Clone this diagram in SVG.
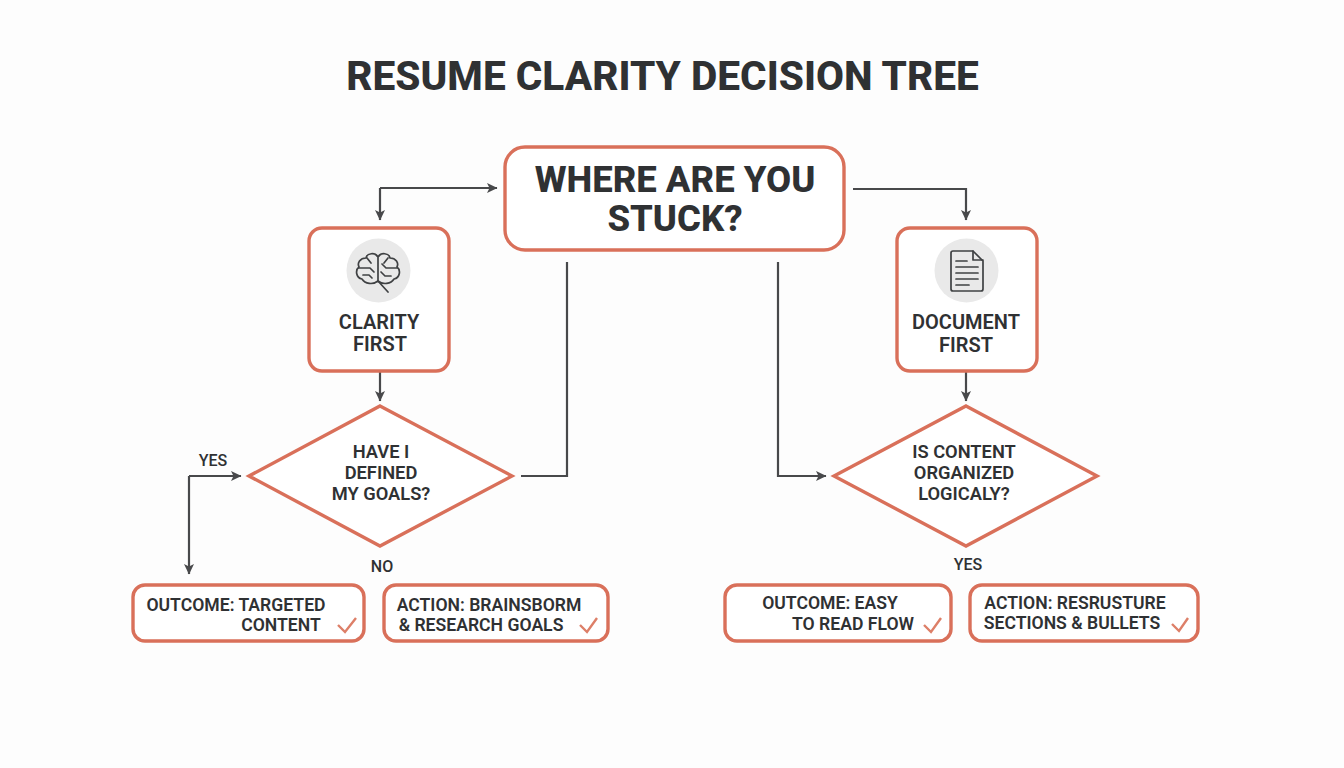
<svg xmlns="http://www.w3.org/2000/svg" width="1344" height="768" viewBox="0 0 1344 768">
<style>
text{font-family:Roboto,"Liberation Sans",sans-serif;fill:#2f3133;text-anchor:middle}
.b{fill:#fff;stroke:#d9705a;stroke-width:3.4}
.c{fill:none;stroke:#48494b;stroke-width:2.2}
.i{fill:none;stroke:#3f4143;stroke-width:1.7;stroke-linecap:round;stroke-linejoin:round}
.k{fill:none;stroke:#dd7f68;stroke-width:2.4}
.t{font-size:40.600px;font-weight:800}
.h{font-size:36.500px;font-weight:800}
.n{font-size:20px;font-weight:600}
.d{font-size:18.300px;font-weight:600}
.l{font-size:16px;font-weight:500}
.o{font-size:17.600px;font-weight:600}
</style>
<defs><marker id="a" markerWidth="12" markerHeight="12" refX="10" refY="6" orient="auto" markerUnits="userSpaceOnUse"><path d="M0,1L10.500,6L0,11L2.500,6Z" fill="#48494b"/></marker></defs>
<rect width="1344" height="768" fill="#fdfdfd"/>
<text id="title" x="662.500" y="90" class="t">RESUME CLARITY DECISION TREE</text>
<g id="connectors">
<path class="c" marker-end="url(#a)" d="M380,188H497"/>
<path class="c" marker-end="url(#a)" d="M380,188V220"/>
<path class="c" marker-end="url(#a)" d="M853,189H966V220"/>
<path class="c" marker-end="url(#a)" d="M380,372V401"/>
<path class="c" marker-end="url(#a)" d="M966,372V401"/>
<path class="c" d="M521,476H567V262"/>
<path class="c" marker-end="url(#a)" d="M778,262V476H826"/>
<path class="c" marker-end="url(#a)" d="M189,476H241"/>
<path class="c" marker-end="url(#a)" d="M189,476V574"/>
</g>
<g id="start"><rect class="b" x="505" y="147" width="339" height="103" rx="20"/><text class="h" x="675" y="192">WHERE ARE YOU</text><text class="h" x="675" y="231">STUCK?</text></g>
<g id="clarity"><rect class="b" x="309" y="228" width="140" height="143" rx="13"/><circle cx="378.500" cy="270.500" r="32" fill="#e9e9e9"/>
<g class="i"><path d="M378,257C375,252 367,253 366,258C360,258 357,263 359,267C355,270 356,278 362,279C365,284 373,285 378,281V257C381,252 389,253 390,258C396,258 399,263 397,267C401,270 400,278 394,279C391,284 383,285 378,281"/><path d="M378,281L388,292M359,268H370L374,272M367,258L371,263M363,275H369L372,278M397,268H386L382,264M391,276H385L381,272M388,258L384,263"/></g>
<text class="n" x="379" y="329">CLARITY</text><text class="n" x="380" y="351">FIRST</text></g>
<g id="document"><rect class="b" x="897" y="228" width="140" height="143" rx="13"/><circle cx="966.500" cy="270.500" r="32" fill="#e9e9e9"/>
<g class="i"><path d="M953,251H973L983,261V289C983,290 982,291 981,291H953C952,291 951,290 951,289V253C951,252 952,251 953,251Z"/><path d="M973,251V260H983M956,261H967M956,267H978M956,273H978M956,279H978M956,285H969"/></g>
<text class="n" x="966" y="329">DOCUMENT</text><text class="n" x="966" y="352">FIRST</text></g>
<g id="goals"><path class="b" d="M380,406L512,476L380,546L249,476Z"/><text class="d" x="381" y="458">HAVE I</text><text class="d" x="381" y="479">DEFINED</text><text class="d" x="381" y="500">MY GOALS?</text></g>
<g id="logic"><path class="b" d="M966,406L1097,476L966,546L834,476Z"/><text class="d" x="964" y="458">IS CONTENT</text><text class="d" x="964" y="479">ORGANIZED</text><text class="d" x="964" y="500">LOGICALY?</text></g>
<text class="l" x="213" y="466">YES</text><text class="l" x="382" y="572">NO</text><text class="l" x="968" y="570">YES</text>
<g id="outcome1"><rect class="b" x="133" y="585" width="231" height="56" rx="12"/><text class="o" x="236" y="611">OUTCOME: TARGETED</text><text class="o" x="281" y="631">CONTENT</text><path class="k" d="M338,625L345,632L356,618"/></g>
<g id="action1"><rect class="b" x="384" y="585" width="224" height="56" rx="12"/><text class="o" x="489" y="611">ACTION: BRAINSBORM</text><text class="o" x="481" y="631">&amp; RESEARCH GOALS</text><path class="k" d="M580,625L587,632L597,618"/></g>
<g id="outcome2"><rect class="b" x="725" y="585" width="226" height="56" rx="12"/><text class="o" x="830" y="609">OUTCOME: EASY</text><text class="o" x="853" y="630">TO READ FLOW</text><path class="k" d="M924,625L931,632L941,618"/></g>
<g id="action2"><rect class="b" x="970" y="585" width="228" height="56" rx="12"/><text class="o" x="1075" y="609">ACTION: RESRUSTURE</text><text class="o" x="1072" y="629">SECTIONS &amp; BULLETS</text><path class="k" d="M1172,624L1179,631L1188,618"/></g>
</svg>
